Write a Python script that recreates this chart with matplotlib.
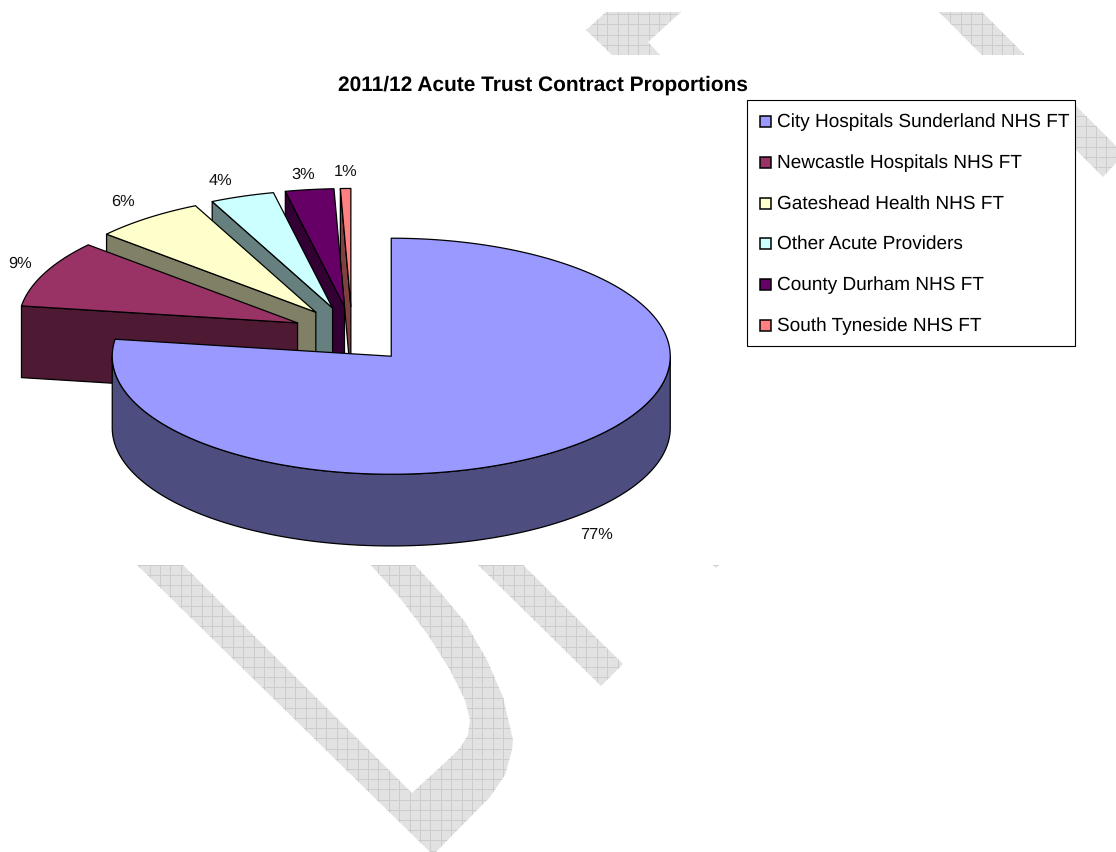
import numpy as np
import matplotlib
matplotlib.use("Agg")
import matplotlib.pyplot as plt
from matplotlib.patches import Patch, Polygon, Rectangle
from matplotlib.legend_handler import HandlerPatch

plt.rcParams["font.family"] = ["Liberation Sans", "DejaVu Sans"]
plt.rcParams["text.hinting"] = "none"

title = "2011/12 Acute Trust Contract Proportions"
providers = ["City Hospitals Sunderland NHS FT", "Newcastle Hospitals NHS FT",
             "Gateshead Health NHS FT", "Other Acute Providers",
             "County Durham NHS FT", "South Tyneside NHS FT"]
shares = [77.3, 9.2, 6.4, 3.7, 2.8, 0.6]
colors = ["#9999FF", "#993366", "#FFFFCC", "#CCFFFF", "#660066", "#FF8080"]
sides = ["#4D4D80", "#4D1933", "#808066", "#668080", "#330033", "#804040"]

# look of the fake 3d pie, in units of the pie radius
squash = 0.423
depth = 0.257
explode_x = 0.215
explode_y = 0.24
radius_px = 279
centre_px = (352, 334.8)

# how far out the percent labels sit, per slice
label_rx = [1.125, 1.095, 1.145, 1.235, 1.17, 1.0]
label_ry = [1.20, 1.20, 1.17, 1.14, 1.13, 1.145]

# watermark outlines, in pixels
wm_shapes = [
    [(586, 30), (606, 12), (681, 12), (648, 42), (660, 55), (612, 55)],
    [(939, 12), (982, 12), (1116, 146), (1116, 163), (1103, 177)],
    [(136, 564), (182, 564), (412, 793), (450, 758), (460, 748), (468, 735), (470, 720),
     (465, 700), (450, 670), (428, 635), (400, 598), (370, 564), (414, 564), (440, 592),
     (465, 622), (487, 660), (503, 697), (513, 740), (512, 750), (505, 775), (490, 797),
     (436, 852), (430, 852)],
    [(477, 564), (522, 564), (623, 664), (601, 686)],
    [(712, 564), (720, 564), (716, 568)],
]


def arc(lo, hi, cx, cy):
    t = np.radians(np.linspace(lo, hi, max(int(abs(hi - lo)) * 2, 2)))
    return np.column_stack([cx + np.cos(t), cy + squash * np.sin(t)])


def draw_slice(ax, lo, hi, cx, cy, color, side):
    down = np.array([0, depth])
    ekw = dict(edgecolor="black", linewidth=0.9, joinstyle="round")
    # radial walls that face the viewer
    for ang, visible in [(lo, np.cos(np.radians(lo)) > 0.001), (hi, np.cos(np.radians(hi)) < -0.001)]:
        if visible:
            tip = arc(ang, ang, cx, cy)[0]
            wall = [(cx, cy), tip, tip - down, (cx, cy - depth)]
            ax.add_patch(Polygon(wall, facecolor=side, **ekw))
    # outer rim, only the front half of the circle shows
    a2, b2 = max(lo, 180), min(hi, 360)
    if b2 > a2:
        top = arc(a2, b2, cx, cy)
        ax.add_patch(Polygon(np.vstack([top, (top - down)[::-1]]), facecolor=side, **ekw))
    pts = np.vstack([[(cx, cy)], arc(lo, hi, cx, cy)])
    ax.add_patch(Polygon(pts, facecolor=color, **ekw))


def square_handle(legend, orig_handle, xdescent, ydescent, width, height, fontsize):
    return Rectangle((0, 0), 11 * 0.72, 11 * 0.72)


fig = plt.figure(figsize=(11.16, 8.52), dpi=100)

# background layer with the watermark, plot area sits on top in white
bg = fig.add_axes([0, 0, 1, 1])
bg.set_xlim(0, 1116)
bg.set_ylim(852, 0)
bg.axis("off")
for shape in wm_shapes:
    poly = Polygon(shape, facecolor="#E2E2E2", edgecolor="none")
    bg.add_patch(poly)
    v = bg.vlines(np.arange(4, 1116, 10.4), 0, 852, color="#CCCCCC", linewidth=0.7)
    h = bg.hlines(np.arange(4, 852, 10.2), 0, 1116, color="#CCCCCC", linewidth=0.7)
    v.set_clip_path(poly)
    h.set_clip_path(poly)
bg.add_patch(Rectangle((0, 55), 1075, 510, facecolor="white", edgecolor="none", zorder=5))
bg.add_patch(Rectangle((747, 100), 328, 246, facecolor="white", edgecolor="black",
                       linewidth=0.8, zorder=6))

# pie layer, the data units are pie radii
ax = fig.add_axes([0, 0, 1, 1])
ax.patch.set_alpha(0)
ax.set_xlim(-centre_px[0] / radius_px, (1116 - centre_px[0]) / radius_px)
ax.set_ylim((centre_px[1] - 852) / radius_px, centre_px[1] / radius_px)
ax.axis("off")

sweep = np.array(shares) / sum(shares) * 360
ends = 90 - np.cumsum(sweep)
starts = ends + sweep

# paint back to front, first slice last because it is at the front
for i in range(len(shares) - 1, -1, -1):
    lo, hi = ends[i], starts[i]
    m = np.radians((lo + hi) / 2)
    if lo < -90:
        lo, hi = lo + 360, hi + 360
    cx = explode_x * np.cos(m)
    cy = explode_y * squash * np.sin(m)
    draw_slice(ax, lo, hi, cx, cy, colors[i], sides[i])
    lx = cx + label_rx[i] * np.cos(m)
    ly = cy + label_ry[i] * squash * np.sin(m)
    if np.sin(m) < 0:
        ly -= depth
    ax.text(lx, ly, f"{shares[i]:.0f}%", ha="center", va="center", fontsize=11.8, color="#111111")

fig.text(543 / 1116, 1 - 85 / 852, title, ha="center", va="center", fontsize=15,
         fontweight="bold", color="black")

handles = [Patch(facecolor=c, edgecolor="black", linewidth=1.1, label=p) for p, c in zip(providers, colors)]
leg = ax.legend(handles=handles, loc="upper left", bbox_to_anchor=(760 / 1116, 1 - 113.5 / 852),
                bbox_transform=fig.transFigure, fontsize=13.66, frameon=False,
                borderaxespad=0, borderpad=0, labelspacing=1.21, handlelength=0.6,
                handleheight=0.6, handletextpad=0.3,
                handler_map={Patch: HandlerPatch(patch_func=square_handle)})

fig.savefig("out.png", dpi=100)
